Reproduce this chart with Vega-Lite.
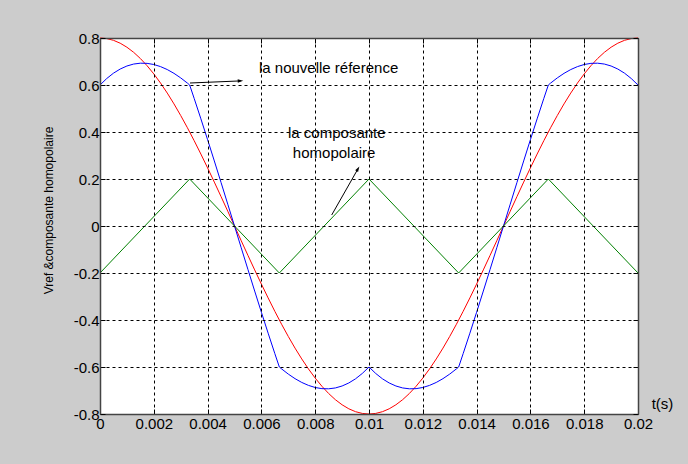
{
"$schema": "https://vega.github.io/schema/vega-lite/v6.json",
"width": 538, "height": 376,
"autosize": {"type": "none"},
"padding": {"left": 100, "top": 38, "right": 50, "bottom": 50},
"background": "#cccccc",
"config": {"view": {"fill": "#ffffff", "stroke": null}, "font": "Liberation Sans"},
"datasets": {
"ref": [
{"t":0,"v":0.8},{"t":0.00025,"v":0.7975},{"t":0.0005,"v":0.7902},{"t":0.00075,"v":0.7779},{"t":0.001,"v":0.7608},{"t":0.00125,"v":0.7391},{"t":0.0015,"v":0.7128},{"t":0.00175,"v":0.6821},{"t":0.002,"v":0.6472},{"t":0.00225,"v":0.6083},{"t":0.0025,"v":0.5657},{"t":0.00275,"v":0.5196},{"t":0.003,"v":0.4702},{"t":0.00325,"v":0.418},{"t":0.0035,"v":0.3632},{"t":0.00375,"v":0.3061},{"t":0.004,"v":0.2472},{"t":0.00425,"v":0.1868},{"t":0.0045,"v":0.1251},{"t":0.00475,"v":0.0628},{"t":0.005,"v":0},
{"t":0.00525,"v":-0.0628},{"t":0.0055,"v":-0.1251},{"t":0.00575,"v":-0.1868},{"t":0.006,"v":-0.2472},{"t":0.00625,"v":-0.3061},{"t":0.0065,"v":-0.3632},{"t":0.00675,"v":-0.418},{"t":0.007,"v":-0.4702},{"t":0.00725,"v":-0.5196},{"t":0.0075,"v":-0.5657},{"t":0.00775,"v":-0.6083},{"t":0.008,"v":-0.6472},{"t":0.00825,"v":-0.6821},{"t":0.0085,"v":-0.7128},{"t":0.00875,"v":-0.7391},{"t":0.009,"v":-0.7608},{"t":0.00925,"v":-0.7779},{"t":0.0095,"v":-0.7902},{"t":0.00975,"v":-0.7975},{"t":0.01,"v":-0.8},
{"t":0.01025,"v":-0.7975},{"t":0.0105,"v":-0.7902},{"t":0.01075,"v":-0.7779},{"t":0.011,"v":-0.7608},{"t":0.01125,"v":-0.7391},{"t":0.0115,"v":-0.7128},{"t":0.01175,"v":-0.6821},{"t":0.012,"v":-0.6472},{"t":0.01225,"v":-0.6083},{"t":0.0125,"v":-0.5657},{"t":0.01275,"v":-0.5196},{"t":0.013,"v":-0.4702},{"t":0.01325,"v":-0.418},{"t":0.0135,"v":-0.3632},{"t":0.01375,"v":-0.3061},{"t":0.014,"v":-0.2472},{"t":0.01425,"v":-0.1868},{"t":0.0145,"v":-0.1251},{"t":0.01475,"v":-0.0628},{"t":0.015,"v":0},
{"t":0.01525,"v":0.0628},{"t":0.0155,"v":0.1251},{"t":0.01575,"v":0.1868},{"t":0.016,"v":0.2472},{"t":0.01625,"v":0.3061},{"t":0.0165,"v":0.3632},{"t":0.01675,"v":0.418},{"t":0.017,"v":0.4702},{"t":0.01725,"v":0.5196},{"t":0.0175,"v":0.5657},{"t":0.01775,"v":0.6083},{"t":0.018,"v":0.6472},{"t":0.01825,"v":0.6821},{"t":0.0185,"v":0.7128},{"t":0.01875,"v":0.7391},{"t":0.019,"v":0.7608},{"t":0.01925,"v":0.7779},{"t":0.0195,"v":0.7902},{"t":0.01975,"v":0.7975},{"t":0.02,"v":0.8}
],
"nouv": [
{"t":0,"v":0.6},{"t":0.00025,"v":0.6275},{"t":0.0005,"v":0.6502},{"t":0.00075,"v":0.6679},{"t":0.001,"v":0.6808},{"t":0.00125,"v":0.6891},{"t":0.0015,"v":0.6928},{"t":0.00175,"v":0.6921},{"t":0.002,"v":0.6872},{"t":0.00225,"v":0.6783},{"t":0.0025,"v":0.6657},{"t":0.00275,"v":0.6496},{"t":0.003,"v":0.6302},{"t":0.00325,"v":0.608},{"t":0.0033333,"v":0.6},{"t":0.0035,"v":0.5432},{"t":0.00375,"v":0.4561},{"t":0.004,"v":0.3672},{"t":0.00425,"v":0.2768},{"t":0.0045,"v":0.1851},{"t":0.00475,"v":0.0928},{"t":0.005,"v":0},
{"t":0.00525,"v":-0.0928},{"t":0.0055,"v":-0.1851},{"t":0.00575,"v":-0.2768},{"t":0.006,"v":-0.3672},{"t":0.00625,"v":-0.4561},{"t":0.0065,"v":-0.5432},{"t":0.0066667,"v":-0.6},{"t":0.00675,"v":-0.608},{"t":0.007,"v":-0.6302},{"t":0.00725,"v":-0.6496},{"t":0.0075,"v":-0.6657},{"t":0.00775,"v":-0.6783},{"t":0.008,"v":-0.6872},{"t":0.00825,"v":-0.6921},{"t":0.0085,"v":-0.6928},{"t":0.00875,"v":-0.6891},{"t":0.009,"v":-0.6808},{"t":0.00925,"v":-0.6679},{"t":0.0095,"v":-0.6502},{"t":0.00975,"v":-0.6275},{"t":0.01,"v":-0.6},
{"t":0.01025,"v":-0.6275},{"t":0.0105,"v":-0.6502},{"t":0.01075,"v":-0.6679},{"t":0.011,"v":-0.6808},{"t":0.01125,"v":-0.6891},{"t":0.0115,"v":-0.6928},{"t":0.01175,"v":-0.6921},{"t":0.012,"v":-0.6872},{"t":0.01225,"v":-0.6783},{"t":0.0125,"v":-0.6657},{"t":0.01275,"v":-0.6496},{"t":0.013,"v":-0.6302},{"t":0.01325,"v":-0.608},{"t":0.0133333,"v":-0.6},{"t":0.0135,"v":-0.5432},{"t":0.01375,"v":-0.4561},{"t":0.014,"v":-0.3672},{"t":0.01425,"v":-0.2768},{"t":0.0145,"v":-0.1851},{"t":0.01475,"v":-0.0928},{"t":0.015,"v":0},
{"t":0.01525,"v":0.0928},{"t":0.0155,"v":0.1851},{"t":0.01575,"v":0.2768},{"t":0.016,"v":0.3672},{"t":0.01625,"v":0.4561},{"t":0.0165,"v":0.5432},{"t":0.0166667,"v":0.6},{"t":0.01675,"v":0.608},{"t":0.017,"v":0.6302},{"t":0.01725,"v":0.6496},{"t":0.0175,"v":0.6657},{"t":0.01775,"v":0.6783},{"t":0.018,"v":0.6872},{"t":0.01825,"v":0.6921},{"t":0.0185,"v":0.6928},{"t":0.01875,"v":0.6891},{"t":0.019,"v":0.6808},{"t":0.01925,"v":0.6679},{"t":0.0195,"v":0.6502},{"t":0.01975,"v":0.6275},{"t":0.02,"v":0.6}
],
"hom": [
{"t":0,"v":-0.2},{"t":0.0033333,"v":0.2},{"t":0.0066667,"v":-0.2},{"t":0.01,"v":0.2},{"t":0.0133333,"v":-0.2},{"t":0.0166667,"v":0.2},{"t":0.02,"v":-0.2}
],
"arrows": [
{"t":0.003346,"v":0.6085,"t2":0.005223,"v2":0.6174},
{"t":0.008613,"v":0.0468,"t2":0.009591,"v2":0.2434}
],
"heads": [
{"t":0.005223,"v":0.6174,"a":358},
{"t":0.009591,"v":0.2434,"a":300}
],
"labels": [
{"t":0.00591,"v":0.672,"label":"la nouvelle réference"},
{"t":0.00699,"v":0.396,"label":"la composante"},
{"t":0.00717,"v":0.311,"label":"homopolaire"}
]
},
"layer": [
{
"data": {"name": "ref"},
"mark": {"type": "line", "color": "#ff0000", "strokeWidth": 1},
"encoding": {
"x": {"field": "t", "type": "quantitative", "scale": {"domain": [0, 0.02], "nice": false, "zero": false},
"axis": {"orient": "bottom", "values": [0,0.002,0.004,0.006,0.008,0.01,0.012,0.014,0.016,0.018,0.02],
"labelExpr": "format(datum.value, '~g')", "labelFlush": false, "labelOverlap": false,
"labelFontSize": 15, "labelColor": "#000000", "labelPadding": 7,
"grid": true, "gridColor": "#000000", "gridDash": [3,3], "gridOpacity": 1, "gridWidth": 1,
"ticks": true, "tickSize": -5, "tickColor": "#000000",
"domain": true, "domainColor": "#444444", "domainWidth": 1.5, "zindex": 1,
"title": "t(s)", "titleFontSize": 15, "titleFontWeight": "normal", "titleColor": "#000000",
"titleX": 562, "titleY": -11, "titleAlign": "center", "titleBaseline": "middle", "titleAngle": 0}},
"y": {"field": "v", "type": "quantitative", "scale": {"domain": [-0.8, 0.8], "nice": false, "zero": false},
"axis": {"orient": "left", "values": [-0.8,-0.6,-0.4,-0.2,0,0.2,0.4,0.6,0.8],
"labelExpr": "datum.value < -0.0001 ? '-' + format(-datum.value, '~g') : format(abs(datum.value) < 0.0001 ? 0 : datum.value, '~g')",
"labelFlush": false, "labelOverlap": false,
"labelFontSize": 15, "labelColor": "#000000", "labelPadding": 6,
"grid": true, "gridColor": "#000000", "gridDash": [3,3], "gridOpacity": 1, "gridWidth": 1,
"ticks": true, "tickSize": -5, "tickColor": "#000000",
"domain": true, "domainColor": "#444444", "domainWidth": 1.5, "zindex": 1,
"title": "Vref &composante homopolaire", "titleFontSize": 12, "titleFontWeight": "normal", "titleColor": "#000000",
"titleX": -52, "titleY": 172, "titleAlign": "center", "titleBaseline": "middle", "titleAngle": -90}}
}
},
{
"data": {"name": "nouv"},
"mark": {"type": "line", "color": "#0000ff", "strokeWidth": 1},
"encoding": {
"x": {"field": "t", "type": "quantitative",
"axis": {"orient": "top", "values": [0,0.002,0.004,0.006,0.008,0.01,0.012,0.014,0.016,0.018,0.02],
"labels": false, "grid": false, "ticks": true, "tickSize": -5, "tickColor": "#000000",
"domain": true, "domainColor": "#444444", "domainWidth": 1.5, "title": null, "zindex": 1}},
"y": {"field": "v", "type": "quantitative",
"axis": {"orient": "right", "values": [-0.8,-0.6,-0.4,-0.2,0,0.2,0.4,0.6,0.8],
"labels": false, "grid": false, "ticks": true, "tickSize": -5, "tickColor": "#000000",
"domain": true, "domainColor": "#444444", "domainWidth": 1.5, "title": null, "zindex": 1}}
}
},
{
"data": {"name": "hom"},
"mark": {"type": "line", "color": "#008000", "strokeWidth": 1},
"encoding": {
"x": {"field": "t", "type": "quantitative", "axis": null},
"y": {"field": "v", "type": "quantitative", "axis": null}
}
},
{
"data": {"name": "arrows"},
"mark": {"type": "rule", "color": "#000000", "strokeWidth": 1},
"encoding": {
"x": {"field": "t", "type": "quantitative", "axis": null},
"y": {"field": "v", "type": "quantitative", "axis": null},
"x2": {"field": "t2"},
"y2": {"field": "v2"}
}
},
{
"data": {"name": "heads"},
"mark": {"type": "point", "shape": "M-0.5,-0.3L0.5,0L-0.5,0.3Z", "filled": true, "color": "#000000", "size": 121, "opacity": 1, "strokeWidth": 0},
"encoding": {
"x": {"field": "t", "type": "quantitative", "axis": null},
"y": {"field": "v", "type": "quantitative", "axis": null},
"angle": {"field": "a", "type": "quantitative", "scale": null}
}
},
{
"data": {"name": "labels"},
"mark": {"type": "text", "align": "left", "baseline": "middle", "fontSize": 15, "color": "#000000", "font": "Liberation Sans"},
"encoding": {
"x": {"field": "t", "type": "quantitative", "axis": null},
"y": {"field": "v", "type": "quantitative", "axis": null},
"text": {"field": "label"}
}
}
]
}
